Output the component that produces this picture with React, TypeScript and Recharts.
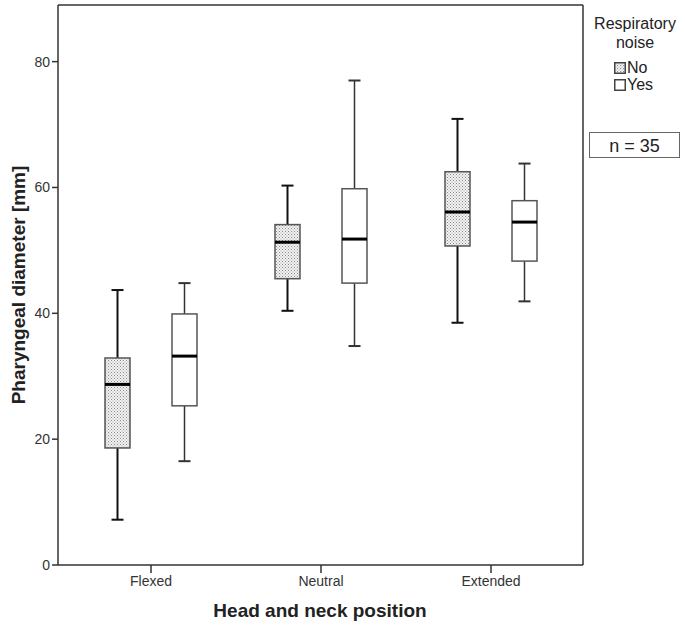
import { ComposedChart, Bar, XAxis, YAxis } from 'recharts'

const categories = ['Flexed', 'Neutral', 'Extended']

// Respiratory noise: No
const noMin = [7.2, 40.4, 38.5]
const noQ1 = [18.6, 45.5, 50.7]
const noMed = [28.7, 51.3, 56.1]
const noQ3 = [32.9, 54.1, 62.5]
const noMax = [43.7, 60.3, 70.9]

// Respiratory noise: Yes
const yesMin = [16.5, 34.8, 41.9]
const yesQ1 = [25.3, 44.8, 48.3]
const yesMed = [33.2, 51.8, 54.5]
const yesQ3 = [39.9, 59.8, 57.9]
const yesMax = [44.8, 77.0, 63.8]

const yTicks = [0, 20, 40, 60, 80]

const data = categories.map((name, i) => ({
  name,
  no: { min: noMin[i], q1: noQ1[i], med: noMed[i], q3: noQ3[i], max: noMax[i] },
  yes: { min: yesMin[i], q1: yesQ1[i], med: yesMed[i], q3: yesQ3[i], max: yesMax[i] },
}))

const font = '"Liberation Sans", Arial, sans-serif'
const axisColor = '#333'

function BoxShape(props: any) {
  const { x, y, width, height, payload, group, dotted } = props
  const s = payload[group]
  // map a value into the pixel range that the bar [min, max] occupies
  const py = (v: number) => y + (height * (s.max - v)) / (s.max - s.min)
  const cx = x + width / 2
  const cap = 12
  const wColor = dotted ? '#111' : '#333'
  const wWidth = dotted ? 2 : 1.5
  return (
    <g>
      <line x1={cx} x2={cx} y1={py(s.max)} y2={py(s.q3)} stroke={wColor} strokeWidth={wWidth} />
      <line x1={cx} x2={cx} y1={py(s.q1)} y2={py(s.min)} stroke={wColor} strokeWidth={wWidth} />
      <line x1={cx - cap / 2} x2={cx + cap / 2} y1={py(s.max)} y2={py(s.max)} stroke={wColor} strokeWidth={2} />
      <line x1={cx - cap / 2} x2={cx + cap / 2} y1={py(s.min)} y2={py(s.min)} stroke={wColor} strokeWidth={2} />
      <rect
        x={x}
        y={py(s.q3)}
        width={width}
        height={py(s.q1) - py(s.q3)}
        fill={dotted ? 'url(#dots)' : '#fff'}
        stroke="#555"
        strokeWidth={1.5}
      />
      <line x1={x} x2={x + width} y1={py(s.med)} y2={py(s.med)} stroke="#000" strokeWidth={3} />
    </g>
  )
}

export default function App() {
  return (
    <div style={{ position: 'absolute', left: 0, top: 0, width: 685, height: 626, background: '#fff' }}>
      <ComposedChart
        width={685}
        height={626}
        data={data}
        margin={{ top: 4, right: 101, left: 0, bottom: 0 }}
        barSize={25}
        barGap={42}
      >
        <defs>
          <pattern id="dots" width="3" height="3" patternUnits="userSpaceOnUse">
            <rect width="3" height="3" fill="#f2f2f2" />
            <rect x="0" y="0" width="1" height="1" fill="#8a8a8a" />
            <rect x="1.5" y="1.5" width="1" height="1" fill="#a0a0a0" />
          </pattern>
        </defs>
        <XAxis
          dataKey="name"
          height={61}
          padding={{ left: 8, right: 7 }}
          stroke={axisColor}
          strokeWidth={1.5}
          tickSize={8}
          tickMargin={3}
          tick={{ fontSize: 14, fill: '#333', fontFamily: font }}
          label={{
            content: () => (
              <text
                x={320}
                y={617}
                textAnchor="middle"
                fontSize={19}
                fontWeight="bold"
                fill="#222"
                fontFamily={font}
              >
                Head and neck position
              </text>
            ),
          }}
        />
        <XAxis xAxisId="top" dataKey="name" orientation="top" height={1} stroke={axisColor} strokeWidth={1.5} tick={false} tickLine={false} />
        <YAxis
          width={58}
          domain={[0, 89]}
          ticks={yTicks}
          stroke={axisColor}
          strokeWidth={1.5}
          tickSize={6}
          tick={{ fontSize: 14, fill: '#333', fontFamily: font }}
          label={{
            content: ({ viewBox }: any) => {
              const cy = viewBox.y + viewBox.height / 2
              return (
                <text
                  x={18}
                  y={cy}
                  transform={`rotate(-90, 18, ${cy})`}
                  textAnchor="middle"
                  dominantBaseline="central"
                  fontSize={19}
                  fontWeight="bold"
                  fill="#222"
                  fontFamily={font}
                >
                  Pharyngeal diameter [mm]
                </text>
              )
            },
          }}
        />
        <YAxis yAxisId="right" orientation="right" width={1} domain={[0, 89]} stroke={axisColor} strokeWidth={1.5} tick={false} tickLine={false} />
        <Bar
          dataKey={(d: any) => [d.no.min, d.no.max]}
          name="No"
          isAnimationActive={false}
          shape={(p: any) => <BoxShape {...p} group="no" dotted />}
        />
        <Bar
          dataKey={(d: any) => [d.yes.min, d.yes.max]}
          name="Yes"
          isAnimationActive={false}
          shape={(p: any) => <BoxShape {...p} group="yes" />}
        />
      </ComposedChart>

      <div style={{ position: 'absolute', left: 587, top: 14, width: 96, fontFamily: font, color: '#222' }}>
        <div style={{ textAlign: 'center', fontSize: 16, lineHeight: '19px' }}>
          Respiratory
          <br />
          noise
        </div>
        <div style={{ marginLeft: 27, marginTop: 7, fontSize: 16, lineHeight: '17px' }}>
          <div style={{ display: 'flex', alignItems: 'center', height: 17 }}>
            <svg width={12} height={12} style={{ marginRight: 1 }}>
              <rect x={0.75} y={0.75} width={10.5} height={10.5} fill="url(#dots)" stroke="#444" strokeWidth={1.5} />
            </svg>
            No
          </div>
          <div style={{ display: 'flex', alignItems: 'center', height: 17 }}>
            <svg width={12} height={12} style={{ marginRight: 1 }}>
              <rect x={0.75} y={0.75} width={10.5} height={10.5} fill="#fff" stroke="#444" strokeWidth={1.5} />
            </svg>
            Yes
          </div>
        </div>
      </div>
      <div
        style={{
          position: 'absolute',
          left: 589,
          top: 132,
          width: 89,
          height: 24,
          border: '1.5px solid #666',
          fontFamily: font,
          fontSize: 18,
          lineHeight: '26px',
          textAlign: 'center',
          color: '#222',
        }}
      >
        n = 35
      </div>
    </div>
  )
}
